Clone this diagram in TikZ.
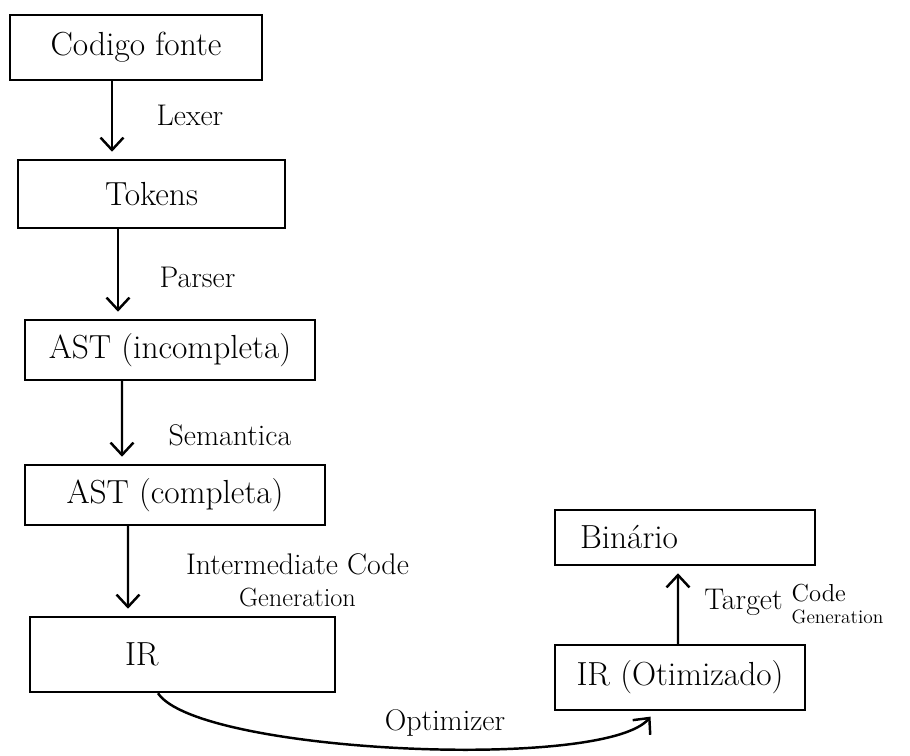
\documentclass[tikz,border=0pt]{standalone}
\usetikzlibrary{arrows.meta}

\begin{document}
\begin{tikzpicture}[>={Straight Barb[length=7pt,width=13pt]},line width=1.4pt,
   box/.style={draw,minimum height=1.3cm,font=\fontsize{19}{22}\selectfont},
   flow/.style={->,shorten >=4pt},
   lbl/.style={font=\fontsize{17}{20}\selectfont,inner sep=1pt}]
  \useasboundingbox (0,0) rectangle (18.2,-15.12);
  % stages
  \node[box,minimum width=5.04cm] (codigo) at (2.72,-0.95) {Codigo fonte};
  \node[box,minimum width=5.34cm,minimum height=1.36cm] (tokens) at (3.03,-3.88) {Tokens};
  \node[box,minimum width=5.8cm,minimum height=1.2cm] (astinc) at (3.4,-7.0) {AST (incompleta)};
  \node[box,minimum width=6.0cm,minimum height=1.2cm] (astcomp) at (3.5,-9.9) {AST (completa)};
  \node[box,minimum height=1.5cm,inner xsep=1.9cm,text width=2.3cm,align=left] (ir) at (3.65,-13.09) {IR};
  \node[box,minimum height=1.1cm,inner xsep=0.5cm,text width=4.2cm,align=left] (binario) at (13.7,-10.75) {Binário};
  \node[box,minimum width=5.0cm] (irotim) at (13.6,-13.55) {IR (Otimizado)};
  % passes
  \draw[flow] ([xshift=-0.48cm]codigo.south) -- ([xshift=-0.79cm]tokens.north);
  \draw[flow] ([xshift=-0.67cm]tokens.south) -- ([xshift=-1.04cm]astinc.north);
  \draw[flow] ([xshift=-0.96cm]astinc.south) -- ([xshift=-1.06cm]astcomp.north);
  \draw[flow] ([xshift=-0.94cm]astcomp.south) -- ([xshift=-1.09cm]ir.north);
  \draw[flow] ([xshift=-0.49cm]ir.south) .. controls +(0.8,-1.2) and +(-1.0,-1.2) .. ([xshift=-0.5cm]irotim.south);
  \draw[flow] ([xshift=-0.04cm]irotim.north) -- ([xshift=-0.14cm]binario.south);
  % labels
  \node[lbl] (lexer) at (3.8,-2.3) {Lexer};
  \node[lbl] (parser) at (3.95,-5.55) {Parser};
  \node[lbl] (semantica) at (4.6,-8.7) {Semantica};
  \node[lbl,align=center] (icgen) at (5.95,-11.6) {Intermediate Code\\[-2pt]{\fontsize{15}{18}\selectfont Generation}};
  \node[lbl] (optimizer) at (8.9,-14.45) {Optimizer};
  \node[lbl] (target) at (14.87,-12.05) {Target};
  \node[lbl,align=left,font=\fontsize{11}{13}\selectfont] (tcgen) at (16.75,-12.08) {\fontsize{14}{16}\selectfont Code\\Generation};
\end{tikzpicture}
\end{document}
